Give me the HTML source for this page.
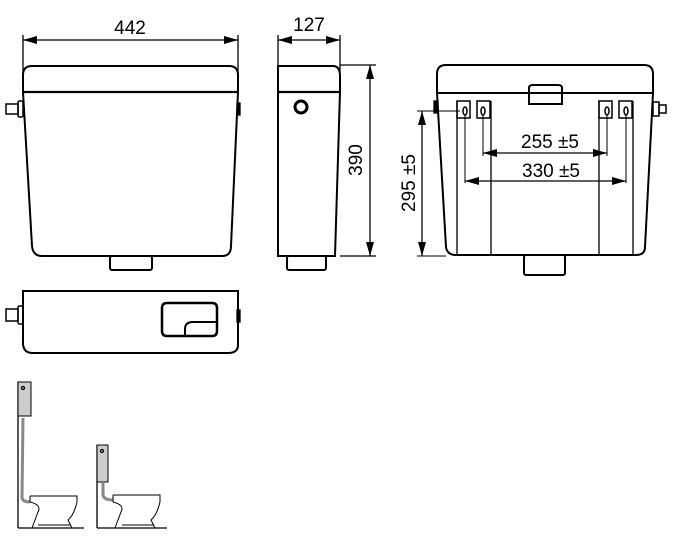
<!DOCTYPE html>
<html><head><meta charset="utf-8"><style>
html,body{margin:0;padding:0;background:#fff;}
svg{display:block;}
text{font-family:"Liberation Sans",Arial,sans-serif;fill:#000;}
</style></head><body>
<svg width="675" height="543" viewBox="0 0 675 543" xmlns="http://www.w3.org/2000/svg">
<defs>
<marker id="a" markerWidth="14" markerHeight="8" refX="0" refY="4" orient="auto" markerUnits="userSpaceOnUse">
<path d="M0,4 L14,0 L14,8 Z" fill="#000"/></marker>
<marker id="b" markerWidth="14" markerHeight="8" refX="14" refY="4" orient="auto" markerUnits="userSpaceOnUse">
<path d="M14,4 L0,0 L0,8 Z" fill="#000"/></marker>
</defs>
<g fill="none" stroke="#000" stroke-width="1.3">
<line x1="23" y1="40" x2="238" y2="40" marker-start="url(#a)" marker-end="url(#b)"/>
<line x1="23" y1="35" x2="23" y2="72"/><line x1="238" y1="35" x2="238" y2="72"/>
<path d="M23,92 L23,75 Q23,66 32,66 L229,66 Q238,66 238,75 L238,92" stroke-width="2"/>
<line x1="23" y1="92" x2="238" y2="92" stroke-width="2.2"/>
<path d="M23,92 L32,246 Q33,256 42,256 L222,256 Q231,256 231,246 L238,92" stroke-width="2"/>
<rect x="110" y="256" width="42" height="14" rx="2" stroke-width="2"/>
<rect x="6" y="104" width="12" height="10" stroke-width="1.5"/>
<rect x="18" y="101" width="5" height="16" rx="1.5" stroke-width="1.5"/>
<rect x="237" y="103" width="3" height="12" fill="#000"/>
<line x1="278" y1="40" x2="340" y2="40" marker-start="url(#a)" marker-end="url(#b)"/>
<line x1="278" y1="35" x2="278" y2="72"/><line x1="340" y1="35" x2="340" y2="72"/>
<path d="M278,92 L278,66 L333,66 Q340,66 340,76 L340,92" stroke-width="2"/>
<line x1="278" y1="92" x2="340" y2="92" stroke-width="2.2"/>
<path d="M278,92 L278,256 L335,256 L340,92" stroke-width="2"/>
<rect x="287" y="256" width="39" height="14" rx="2" stroke-width="2"/>
<circle cx="301" cy="107" r="6" stroke-width="3"/>
<line x1="340" y1="65" x2="376" y2="65"/><line x1="340" y1="256" x2="376" y2="256"/>
<line x1="370" y1="65" x2="370" y2="256" marker-start="url(#a)" marker-end="url(#b)"/>
<path d="M437,93 L437,74 Q437,65 446,65 L644,65 Q653,65 653,74 L653,93" stroke-width="2"/>
<line x1="437" y1="93" x2="653" y2="93" stroke-width="2"/>
<path d="M437,93 L446,247 Q447,255 456,255 L636,255 Q645,255 645,247 L653,93" stroke-width="2"/>
<path d="M529,104 L529,88 Q529,85 533,85 L558,85 Q562,85 562,88 L562,104 Z" stroke-width="2"/>
<rect x="524" y="255" width="41" height="20" rx="2" stroke-width="2"/>
<rect x="434" y="101" width="4" height="12" fill="#000"/>
<rect x="653" y="102" width="6" height="14" stroke-width="1.5"/>
<rect x="659" y="105" width="7" height="8" stroke-width="1.5"/>
<line x1="457" y1="101" x2="457" y2="255"/><line x1="491" y1="101" x2="491" y2="255"/>
<line x1="599" y1="101" x2="599" y2="255"/><line x1="633" y1="101" x2="633" y2="255"/>
<rect x="457" y="101" width="13" height="17" stroke-width="1.5"/>
<rect x="477" y="101" width="13" height="17" stroke-width="1.5"/>
<rect x="599" y="101" width="13" height="17" stroke-width="1.5"/>
<rect x="619" y="101" width="13" height="17" stroke-width="1.5"/>
<ellipse cx="465" cy="111" rx="2" ry="4" stroke-width="1.5"/>
<ellipse cx="483" cy="111" rx="2" ry="4" stroke-width="1.5"/>
<ellipse cx="607" cy="111" rx="2" ry="4" stroke-width="1.5"/>
<ellipse cx="626" cy="111" rx="2" ry="4" stroke-width="1.5"/>
<line x1="483" y1="115" x2="483" y2="156" stroke-width="1"/>
<line x1="607" y1="115" x2="607" y2="156" stroke-width="1"/>
<line x1="465" y1="115" x2="465" y2="183" stroke-width="1"/>
<line x1="626" y1="115" x2="626" y2="183" stroke-width="1"/>
<line x1="483" y1="153" x2="607" y2="153" marker-start="url(#a)" marker-end="url(#b)"/>
<line x1="465" y1="181" x2="626" y2="181" marker-start="url(#a)" marker-end="url(#b)"/>
<line x1="417" y1="111" x2="460" y2="111" stroke-width="1"/>
<line x1="417" y1="256" x2="446" y2="256" stroke-width="1"/>
<line x1="422" y1="111" x2="422" y2="256" marker-start="url(#a)" marker-end="url(#b)"/>
<path d="M23,291 L238,291 L238,345 Q238,353 228,353 L33,353 Q23,353 23,343 Z" stroke-width="2"/>
<path d="M167,303 L212,303 Q217,303 217,308 L217,331 Q217,336 212,336 L167,336 Q162,336 162,331 L162,308 Q162,303 167,303 Z" stroke-width="2.5"/>
<path d="M185,336 L185,329 Q185,322 193,322 L217,322" stroke-width="2"/>
<rect x="6" y="309" width="12" height="12" stroke-width="1.5"/>
<rect x="18" y="306" width="5" height="18" rx="1.5" stroke-width="1.5"/>
<rect x="237" y="310" width="3" height="12" fill="#000"/>
<line x1="18" y1="382" x2="18" y2="528"/><line x1="18" y1="528" x2="84" y2="528"/>
<rect x="18" y="382" width="13" height="34" fill="#ccc" stroke-width="1"/>
<circle cx="23" cy="388" r="1.5"/>
<path d="M23,418 L22,497 Q22,502 30,502" stroke="#888" stroke-width="3"/>
<path d="M30,496 L77,496 L77,502 Q74,515 68,520 L72,528 M30,502 Q42,505 38,512 L32,528" stroke-width="1"/>
<line x1="30" y1="496" x2="30" y2="502" stroke-width="1"/>
<line x1="38" y1="525" x2="70" y2="525" stroke-width="1"/>
<line x1="97" y1="445" x2="97" y2="528"/><line x1="97" y1="528" x2="167" y2="528"/>
<rect x="97" y="445" width="11" height="37" fill="#ccc" stroke-width="1"/>
<circle cx="102" cy="451" r="1.5"/>
<path d="M103,483 L103,494 Q103,500 113,500" stroke="#888" stroke-width="3"/>
<path d="M113,495 L160,495 L160,502 Q157,515 151,520 L155,528 M113,502 Q125,505 121,512 L115,528" stroke-width="1"/>
<line x1="113" y1="495" x2="113" y2="502" stroke-width="1"/>
<line x1="122" y1="525" x2="154" y2="525" stroke-width="1"/>
</g>
<text x="130" y="34" font-size="19" text-anchor="middle">442</text>
<text x="309" y="31" font-size="19" text-anchor="middle">127</text>
<text x="0" y="0" font-size="19" text-anchor="middle" transform="translate(362,160) rotate(-90)">390</text>
<text x="0" y="0" font-size="19" text-anchor="middle" transform="translate(415,183) rotate(-90)">295 ±5</text>
<text x="550" y="148" font-size="19" text-anchor="middle">255 ±5</text>
<text x="551" y="177" font-size="19" text-anchor="middle">330 ±5</text>
</svg>
</body></html>
